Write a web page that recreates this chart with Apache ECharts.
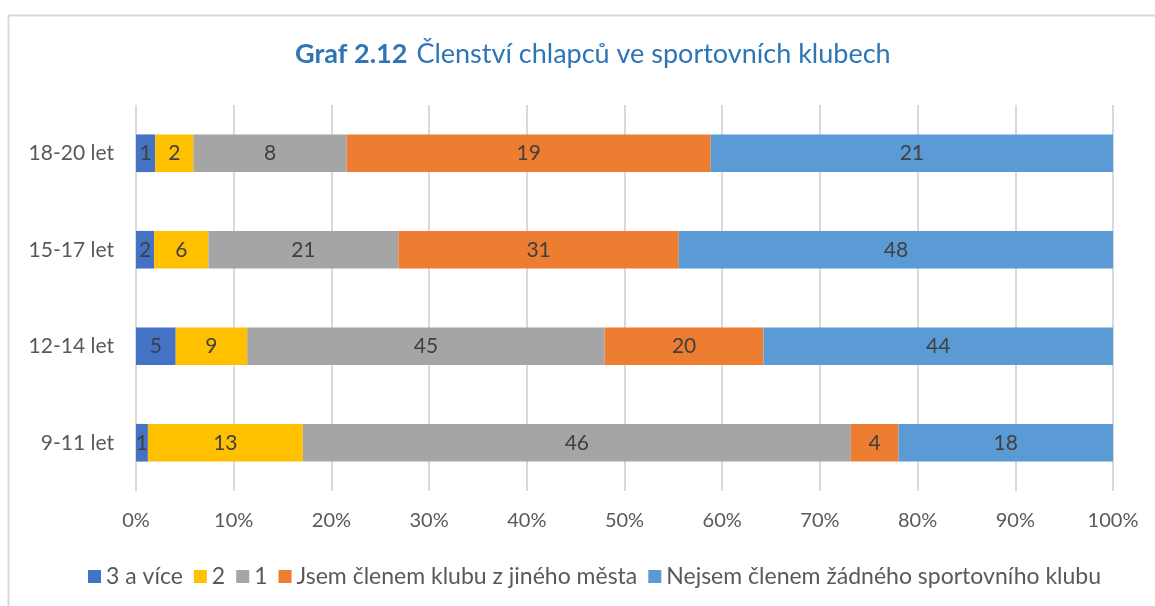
<!DOCTYPE html>
<html>
<head>
<meta charset="utf-8">
<script src="https://cdn.jsdelivr.net/npm/echarts@6/dist/echarts.min.js"></script>
<style>
html,body{margin:0;padding:0;background:#fff;}
#chart{width:1155px;height:606px;}
</style>
</head>
<body>
<div id="chart"></div>
<script>
const categories = ['9-11 let', '12-14 let', '15-17 let', '18-20 let'];
const seriesNames = ['3 a více', '2', '1', 'Jsem členem klubu z jiného města', 'Nejsem členem žádného sportovního klubu'];
const v3aVice = [1, 5, 2, 1];
const v2 = [13, 9, 6, 2];
const v1 = [46, 45, 21, 8];
const vJiny = [4, 20, 31, 19];
const vNejsem = [18, 44, 48, 21];
const tickLabels = ['0%','10%','20%','30%','40%','50%','60%','70%','80%','90%','100%'];
const colors = ['#4472C4', '#FFC000', '#A5A5A5', '#ED7D31', '#5B9BD5'];

const raw = [v3aVice, v2, v1, vJiny, vNejsem];
const totals = categories.map((c, i) => raw.reduce((s, arr) => s + arr[i], 0));

const font = 'Lato, "Open Sans", sans-serif';

const series = raw.map((arr, si) => ({
  name: seriesNames[si],
  type: 'bar',
  stack: 'total',
  barCategoryGap: '61%',
  data: arr.map((v, i) => ({ value: v / totals[i] * 100, raw: v })),
  itemStyle: { color: colors[si] },
  label: {
    show: true,
    position: 'inside',
    color: '#404040',
    fontFamily: font,
    fontSize: 21,
    formatter: p => p.data.raw
  },
  emphasis: { disabled: true }
}));

const chart = echarts.init(document.getElementById('chart'));
chart.setOption({
  animation: false,
  color: colors,
  textStyle: { fontFamily: font },
  title: {
    text: '{b|Graf 2.12}{s| }{n|Členství chlapců ve sportovních klubech}',
    left: 290,
    top: 36,
    textStyle: {
      rich: {
        b: { fontFamily: font, fontSize: 27, fontWeight: 'bold', color: '#2E75B6' },
        s: { fontFamily: font, fontSize: 27, width: 9, color: '#2E75B6' },
        n: { fontFamily: font, fontSize: 27, fontWeight: 'normal', color: '#2E75B6' }
      }
    }
  },
  grid: { left: 136, right: 42, top: 105, bottom: 115, containLabel: false },
  xAxis: {
    type: 'value',
    min: 0,
    max: 100,
    interval: 10,
    axisLine: { show: false },
    axisTick: { show: false },
    splitLine: { show: true, lineStyle: { color: '#D9D9D9', width: 2 } },
    axisLabel: {
      color: '#595959',
      fontSize: 20,
      fontFamily: font,
      margin: 20,
      formatter: (v) => tickLabels[Math.round(v / 10)]
    }
  },
  yAxis: {
    type: 'category',
    data: categories,
    axisLine: { show: false },
    axisTick: { show: false },
    axisLabel: { color: '#595959', fontSize: 21, fontFamily: font, margin: 22 }
  },
  legend: {
    bottom: 13,
    left: 83,
    itemWidth: 13,
    itemHeight: 13,
    itemGap: 11,
    icon: 'rect',
    textStyle: { color: '#595959', fontSize: 23, fontFamily: font },
    data: seriesNames
  },
  graphic: [{
    type: 'polyline',
    shape: { points: [[8.5, 606], [8.5, 15.5], [1155, 15.5]] },
    style: { stroke: '#D9D9D9', lineWidth: 2, fill: null },
    silent: true
  }],
  series: series
});
</script>
</body>
</html>
